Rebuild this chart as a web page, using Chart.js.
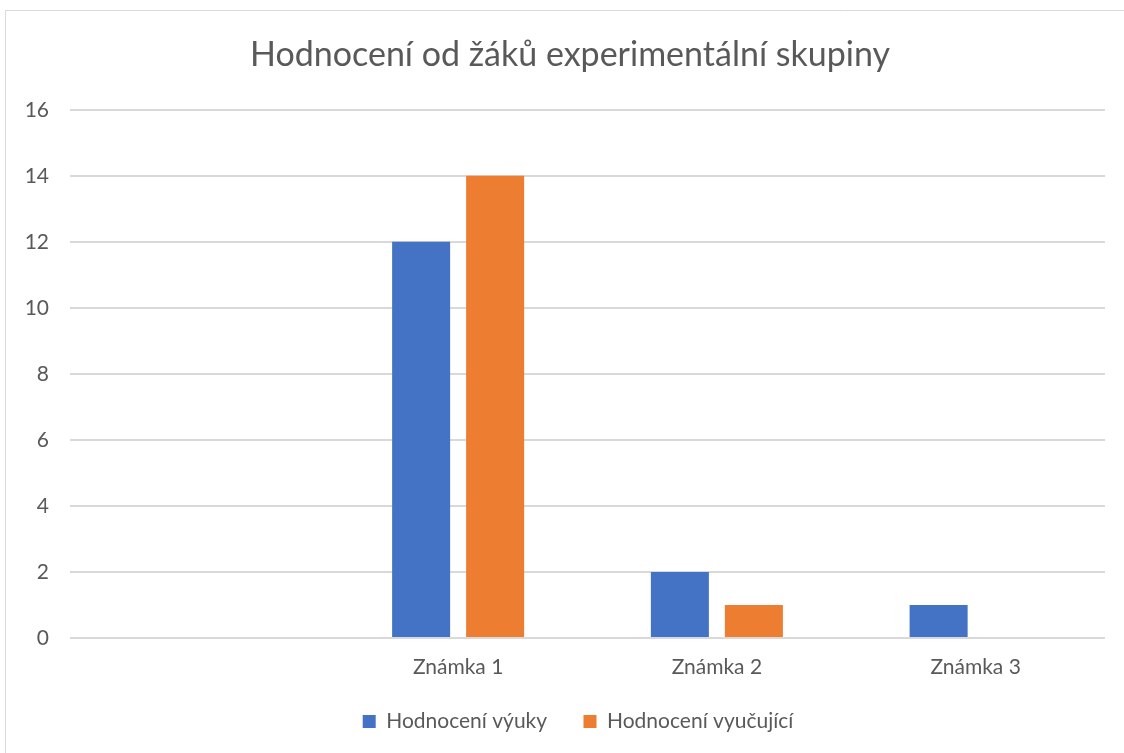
<!DOCTYPE html>
<html>
<head>
<meta charset="utf-8">
<script src="https://cdn.jsdelivr.net/npm/chart.js@4.4.0/dist/chart.umd.min.js"></script>
<style>
html,body{margin:0;padding:0;background:#fff;}
#wrap{position:absolute;left:0;top:0;width:1124px;height:753px;}
</style>
</head>
<body>
<div id="wrap"><canvas id="c" width="1124" height="753"></canvas></div>
<script>
const categories = ["", "Známka 1", "Známka 2", "Známka 3"];
const seriesNames = ["Hodnocení výuky", "Hodnocení vyučující"];
const vyuky = [null, 12, 2, 1];
const vyucujici = [null, 14, 1, 0];
const yTicks = [0, 2, 4, 6, 8, 10, 12, 14, 16];

const FONT = "Lato, 'Open Sans', sans-serif";
const TEXT = "#595959";

const borderPlugin = {
  id: 'frame',
  beforeDraw(chart) {
    const ctx = chart.ctx;
    ctx.save();
    ctx.fillStyle = '#fff';
    ctx.fillRect(0, 0, chart.width, chart.height);
    ctx.strokeStyle = '#D9D9D9';
    ctx.lineWidth = 1;
    ctx.beginPath();
    ctx.moveTo(5.5, chart.height);
    ctx.lineTo(5.5, 10.5);
    ctx.lineTo(chart.width, 10.5);
    ctx.stroke();
    ctx.restore();
  }
};

// shift title and legend centring to match the reference (centred over the plot region)
const centerPlugin = {
  id: 'recenter',
  afterLayout(chart) {
    if (chart.titleBlock) { chart.titleBlock.left = 35; chart.titleBlock.width = chart.titleBlock.right - 35; }
    if (chart.legend) { chart.legend.left = 51; chart.legend.width = chart.legend.right - 51; }
  }
};

new Chart(document.getElementById('c'), {
  type: 'bar',
  data: {
    labels: categories,
    datasets: [
      { label: seriesNames[0], data: vyuky, backgroundColor: '#4472C4', categoryPercentage: 0.572, barPercentage: 0.784 },
      { label: seriesNames[1], data: vyucujici, backgroundColor: '#ED7D31', categoryPercentage: 0.572, barPercentage: 0.784 }
    ]
  },
  options: {
    responsive: false,
    animation: false,
    devicePixelRatio: 1,
    layout: { padding: { left: 0, right: 19, top: 0, bottom: 11 } },
    plugins: {
      title: {
        display: true,
        text: 'Hodnocení od žáků experimentální skupiny',
        color: TEXT,
        font: { family: FONT, size: 34, weight: 'normal' },
        padding: { top: 35, bottom: 34 }
      },
      legend: {
        position: 'bottom',
        labels: {
          color: TEXT,
          font: { family: FONT, size: 21 },
          boxWidth: 13,
          boxHeight: 13,
          padding: 10,
          generateLabels(chart) {
            const items = Chart.defaults.plugins.legend.labels.generateLabels(chart);
            items.forEach((it, i) => { if (i < items.length - 1) it.text = it.text + '\u2002\u2002 '; });
            return items;
          }
        }
      },
      tooltip: { enabled: false }
    },
    scales: {
      x: {
        grid: { display: false, drawTicks: false },
        border: { display: false },
        ticks: { color: TEXT, font: { family: FONT, size: 21 }, padding: 17 },
        afterFit(s) { s.height = 63; }
      },
      y: {
        min: 0, max: 16,
        afterBuildTicks(s) { s.ticks = yTicks.map(v => ({ value: v })); },
        grid: { color: '#D9D9D9', lineWidth: 2, drawTicks: false },
        border: { display: false },
        ticks: { color: TEXT, font: { family: FONT, size: 21 }, padding: 21 },
        afterFit(s) { s.width = 70; }
      }
    }
  },
  plugins: [borderPlugin, centerPlugin]
});
</script>
</body>
</html>
